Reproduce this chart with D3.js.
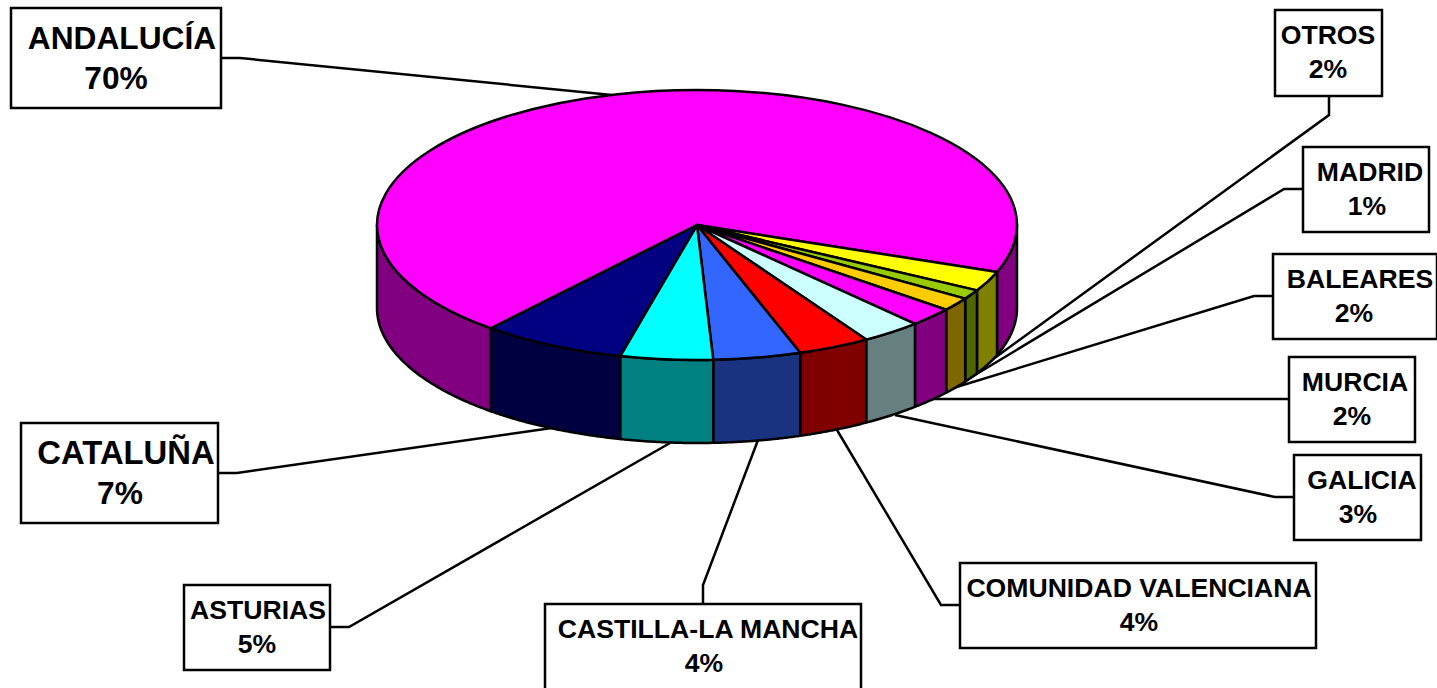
<!DOCTYPE html>
<html><head><meta charset="utf-8">
<script src="https://cdn.jsdelivr.net/npm/d3@7"></script>
<style>html,body{margin:0;padding:0;background:#fff;overflow:hidden}svg{display:block}
text{font-family:"Liberation Sans",Arial,sans-serif;font-weight:bold;fill:#000}</style>
</head><body><svg id="c" width="1437" height="688"></svg>
<script>
const regions=["ANDALUCÍA","OTROS","MADRID","BALEARES","MURCIA","GALICIA","COMUNIDAD VALENCIANA","CASTILLA-LA MANCHA","ASTURIAS","CATALUÑA"];
const shares=[69.53,2.39,1.14,1.61,2.28,3.06,3.64,4.42,4.67,7.28];
const labels=["70%","2%","1%","2%","2%","3%","4%","4%","5%","7%"];
const topColors=["#ff00ff","#ffff00","#99cc00","#ffcc00","#ff00ff","#ccffff","#ff0000","#3366ff","#00ffff","#000080"];
const sideColors=["#800080","#808000","#4d6600","#806600","#800080","#668080","#800000","#1a3380","#008080","#000040"];
// label boxes: x, y, w, h, font size, name centre x, percent centre x, name font size
const boxes=[
 [11,8,210,100,31.7,122,116,31.7],[1275,10,107,86,26.6,1328,1328,26.6],[1303,147,126,85,26.6,1370,1367,26.6],[1273,254,164,85,26.6,1360,1354,26.6],
 [1289,357,126,85,26.6,1355,1352,26.6],[1294,455,127,85,26.6,1362,1358,26.6],[960,563,356,85,26.6,1139,1139,26.6],[545,604,316,86,26.6,708,704,26.6],
 [184,585,146,85,26.6,258,257,26.6],[21,423,197,100,31.7,126,120,32.8]];
// leader polylines
const leaders=[
 [[221,58],[240,58],[612,95]],[[1329,96],[1329,115],[985,365]],[[1303,189],[1284,189],[970,378]],
 [[1273,296],[1254,296],[950,389]],[[1289,399],[1270,399],[930,399]],[[1294,497],[1275,497],[895,415]],
 [[960,605],[941,605],[837,430]],[[703,604],[703,585],[758,440]],[[330,627],[349,627],[670,443]],
 [[218,473],[237,473],[552,428]]];
const cx=697,cy=225,rx=320,ry=135,depth=83,lw=2.5;
const svg=d3.select("#c");
const data=regions.map((r,i)=>({r,v:shares[i],i}));
// pie angle 0 = up in d3; Andalucia begins at parametric 130.1deg clockwise from the right
const startDeg=130.1+90;
const arcs=d3.pie().sort(null).value(d=>d.v).startAngle(startDeg*Math.PI/180).endAngle((startDeg+360)*Math.PI/180)(data);
const pt=(a,dy=0)=>[cx+rx*Math.sin(a),cy-ry*Math.cos(a)+dy];
const line=d3.line();
svg.append("g").selectAll("path").data(leaders).join("path")
 .attr("d",d=>line(d)).attr("fill","none").attr("stroke","#000").attr("stroke-width",lw);
// visible rim: d3 angles 90deg..270deg (mod 360)
const sideG=svg.append("g");
arcs.forEach(a=>{
 const spans=[[a.startAngle,a.endAngle],[a.startAngle-2*Math.PI,a.endAngle-2*Math.PI]];
 spans.forEach(([s,e])=>{
  const lo=Math.max(s,Math.PI/2),hi=Math.min(e,3*Math.PI/2);
  if(hi<=lo)return;
  const ts=d3.range(0,61).map(k=>lo+(hi-lo)*k/60);
  const poly=ts.map(t=>pt(t)).concat(ts.slice().reverse().map(t=>pt(t,depth)));
  sideG.append("path").attr("d",line(poly)+"Z").attr("fill",sideColors[a.data.i])
   .attr("stroke","#000").attr("stroke-width",lw).attr("stroke-linejoin","round");
 });
});
// top face
const arcGen=d3.arc().innerRadius(0).outerRadius(rx);
svg.append("g").attr("transform",`translate(${cx},${cy}) scale(1,${ry/rx})`)
 .selectAll("path").data(arcs).join("path").attr("d",arcGen)
 .attr("fill",d=>topColors[d.data.i]).attr("stroke","#000").attr("stroke-width",lw)
 .attr("vector-effect","non-scaling-stroke").attr("stroke-linejoin","round");
// label boxes
const g=svg.append("g").selectAll("g").data(boxes).join("g");
g.append("rect").attr("x",d=>d[0]).attr("y",d=>d[1]).attr("width",d=>d[2]).attr("height",d=>d[3])
 .attr("fill","#fff").attr("stroke","#000").attr("stroke-width",lw);
g.append("text").attr("text-anchor","middle").attr("x",d=>d[5]).attr("y",d=>d[1]+(d[4]>30?41:34))
 .attr("font-size",d=>d[7]).text((d,i)=>regions[i]);
g.append("text").attr("text-anchor","middle").attr("x",d=>d[6]).attr("y",d=>d[1]+(d[4]>30?81:68))
 .attr("font-size",d=>d[4]).text((d,i)=>labels[i]);
</script></body></html>
